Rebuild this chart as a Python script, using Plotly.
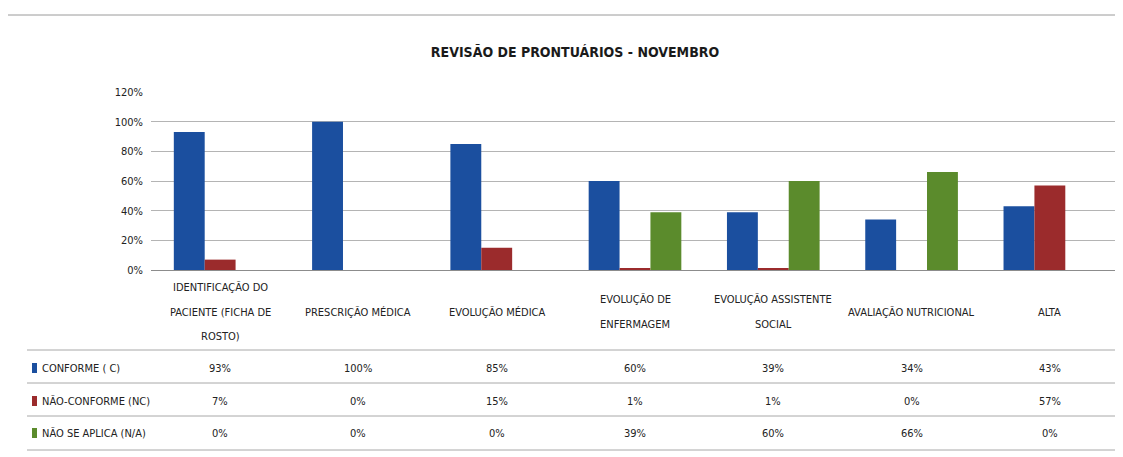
import plotly.graph_objects as go

categories = ['IDENTIFICAÇÃO DO PACIENTE (FICHA DE ROSTO)', 'PRESCRIÇÃO MÉDICA', 'EVOLUÇÃO MÉDICA',
              'EVOLUÇÃO DE ENFERMAGEM', 'EVOLUÇÃO ASSISTENTE SOCIAL', 'AVALIAÇÃO NUTRICIONAL', 'ALTA']
label_lines = [['IDENTIFICAÇÃO DO', 'PACIENTE (FICHA DE', 'ROSTO)'], ['PRESCRIÇÃO MÉDICA'], ['EVOLUÇÃO MÉDICA'],
               ['EVOLUÇÃO DE', 'ENFERMAGEM'], ['EVOLUÇÃO ASSISTENTE', 'SOCIAL'], ['AVALIAÇÃO NUTRICIONAL'], ['ALTA']]
series_names = ['CONFORME ( C)', 'NÃO-CONFORME (NC)', 'NÃO SE APLICA (N/A)']
conforme = [0.93, 1.00, 0.85, 0.60, 0.39, 0.34, 0.43]
nao_conforme = [0.07, 0.00, 0.15, 0.01, 0.01, 0.00, 0.57]
nao_se_aplica = [0.00, 0.00, 0.00, 0.39, 0.60, 0.66, 0.00]
colors = ['#1B4F9F', '#9B2B2C', '#5B8B2C']

FONT = 'Liberation Sans Narrow, Arial Narrow, DejaVu Sans Condensed, sans-serif'
OFF = 8  # page body margin
W, H = 1123 - OFF, 457 - OFF
# plot box in page pixels: x 151..1119, y 92..270
mt, mb, ml, mr = 92 - OFF, 457 - 270, 151 - OFF, 4
plot_h = H - mt - mb
plot_w = W - ml - mr


def py(pixel):
    # page pixel row -> paper y
    return (H - mb - (pixel - OFF)) / plot_h


def px_(pixel):
    return (pixel - OFF - ml) / plot_w


fig = go.Figure()
for name, vals, c in zip(series_names, [conforme, nao_conforme, nao_se_aplica], colors):
    fig.add_trace(go.Bar(x=categories, y=vals, name=name, marker_color=c, marker_line_width=0))

fig.update_layout(
    width=W, height=H, barmode='group', bargap=0.33, bargroupgap=0,
    margin=dict(l=ml, r=mr, t=mt, b=mb), showlegend=False,
    paper_bgcolor='white', plot_bgcolor='white',
    font=dict(family=FONT, size=11, color='#222222'),
    title=dict(text='<b>REVISÃO DE PRONTUÁRIOS - NOVEMBRO</b>', x=px_(575) * plot_w / W + ml / W,
               xanchor='center', y=1 - (52 - OFF) / H, yanchor='middle',
               font=dict(family=FONT, size=14, color='#1a1a1a')),
)
fig.update_yaxes(range=[0, 1.2], dtick=0.2, tickformat='.0%', showgrid=True, gridcolor='#b4b4b4',
                 gridwidth=1, zeroline=False, ticks='', tickfont=dict(size=11), ticklabelstandoff=7)
fig.update_xaxes(showticklabels=False, showline=True, linecolor='#8c8c8c', linewidth=1, ticks='')

# category labels below the axis
for cat, lines in zip(categories, label_lines):
    n = len(lines)
    for i, ln in enumerate(lines):
        fig.add_annotation(x=cat, xref='x', y=py(312 + (i - (n - 1) / 2) * 24.5), yref='paper',
                           text=ln, showarrow=False, font=dict(size=11), xanchor='center', yanchor='middle')

# data table
for yl in [350, 383, 416, 450]:
    fig.add_shape(type='line', xref='paper', yref='paper', x0=px_(27), x1=px_(1117), y0=py(yl), y1=py(yl),
                  line=dict(color='#a8a8a8', width=1))
fig.add_shape(type='line', xref='paper', yref='paper', x0=px_(OFF), x1=px_(1123), y0=py(15), y1=py(15),
              line=dict(color='#9a9a9a', width=1))

row_y = [368, 401, 433]
for name, vals, c, ry in zip(series_names, [conforme, nao_conforme, nao_se_aplica], colors, row_y):
    fig.add_shape(type='rect', xref='paper', yref='paper', x0=px_(32), x1=px_(37), y0=py(ry + 5), y1=py(ry - 5),
                  fillcolor=c, line_width=0)
    fig.add_annotation(x=px_(40), xref='paper', y=py(ry), yref='paper', text=name, showarrow=False,
                       xanchor='left', yanchor='middle', font=dict(size=11))
    for cat, v in zip(categories, vals):
        fig.add_annotation(x=cat, xref='x', y=py(ry), yref='paper', text=f'{round(v * 100)}%',
                           showarrow=False, xanchor='center', yanchor='middle', font=dict(size=11))

fig.write_html('out.html')
